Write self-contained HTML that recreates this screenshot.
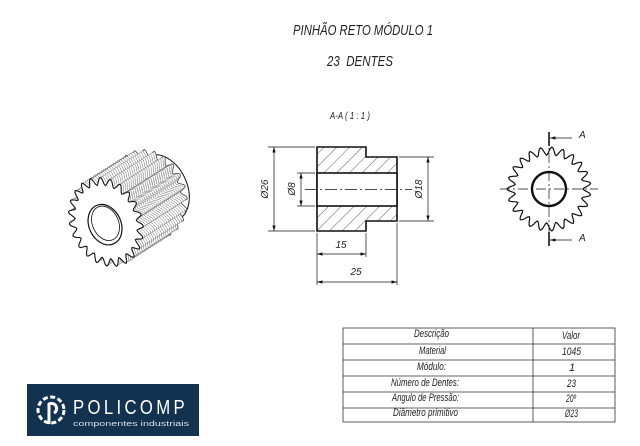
<!DOCTYPE html>
<html><head><meta charset="utf-8"><style>
body{margin:0;background:#fff}
svg{display:block}
.t{font-family:"Liberation Sans",sans-serif;font-style:italic;fill:#222}
</style></head><body>
<svg id="s" width="640" height="446" viewBox="0 0 640 446" xmlns="http://www.w3.org/2000/svg">
<defs>
<pattern id="h" width="9" height="9" patternUnits="userSpaceOnUse" patternTransform="rotate(45)">
<line x1="0" y1="0" x2="0" y2="9" stroke="#333" stroke-width="0.8"/></pattern>
<marker id="a" viewBox="0 0 10 6" refX="10" refY="3" markerWidth="8" markerHeight="5" orient="auto-start-reverse"><path d="M0,0L10,3L0,6z" fill="#111"/></marker>
</defs>
<text class="t" x="293" y="35" font-size="15" textLength="140" lengthAdjust="spacingAndGlyphs">PINHÃO RETO MÓDULO 1</text>
<text class="t" x="327" y="66" font-size="15" textLength="66" lengthAdjust="spacingAndGlyphs" xml:space="preserve">23  DENTES</text>
<text class="t" x="330" y="119" font-size="10" textLength="40" lengthAdjust="spacingAndGlyphs">A-A ( 1 : 1 )</text>

<g stroke="#111" fill="none">
<path d="M317,147H366V157H397V221H366V231H317Z" fill="url(#h)" stroke-width="1.6"/>
<rect x="317" y="173" width="80" height="33" fill="#fff" stroke-width="1.6"/>
<line x1="305" y1="189.5" x2="412" y2="189.5" stroke-width="0.7" stroke-dasharray="12,3,2,3"/>
<g stroke-width="0.7">
<line x1="268" y1="147" x2="315" y2="147"/><line x1="268" y1="231" x2="315" y2="231"/>
<line x1="274" y1="147" x2="274" y2="231" marker-start="url(#a)" marker-end="url(#a)"/>
<line x1="297" y1="173" x2="315" y2="173"/><line x1="297" y1="206" x2="315" y2="206"/>
<line x1="301" y1="173" x2="301" y2="206" marker-start="url(#a)" marker-end="url(#a)"/>
<line x1="399" y1="157" x2="434" y2="157"/><line x1="399" y1="221" x2="434" y2="221"/>
<line x1="428" y1="157" x2="428" y2="221" marker-start="url(#a)" marker-end="url(#a)"/>
<line x1="317" y1="233" x2="317" y2="285"/><line x1="366" y1="233" x2="366" y2="257"/><line x1="397" y1="223" x2="397" y2="285"/>
<line x1="317" y1="254" x2="366" y2="254" marker-start="url(#a)" marker-end="url(#a)"/>
<line x1="317" y1="282" x2="397" y2="282" marker-start="url(#a)" marker-end="url(#a)"/>
</g></g>
<text class="t" font-size="10" transform="translate(268,189) rotate(-90)" text-anchor="middle">Ø26</text>
<text class="t" font-size="10" transform="translate(295,189) rotate(-90)" text-anchor="middle">Ø8</text>
<text class="t" font-size="10" transform="translate(422,189) rotate(-90)" text-anchor="middle">Ø18</text>
<text class="t" font-size="10" x="341" y="248" text-anchor="middle">15</text>
<text class="t" font-size="10" x="356" y="275" text-anchor="middle">25</text>

<g id="fg"></g>
<g stroke="#111" stroke-width="0.7" fill="none">
<line x1="500" y1="189" x2="598" y2="189" stroke-dasharray="10,3,2,3"/>
<line x1="549" y1="135" x2="549" y2="243" stroke-dasharray="10,3,2,3"/>
<line x1="549" y1="132" x2="549" y2="146" stroke-width="1.6"/>
<line x1="549" y1="232" x2="549" y2="246" stroke-width="1.6"/>
<line x1="572" y1="138" x2="550" y2="138" marker-end="url(#a)"/>
<line x1="572" y1="240" x2="550" y2="240" marker-end="url(#a)"/>
</g>
<text class="t" font-size="10" x="579" y="138">A</text>
<text class="t" font-size="10" x="579" y="241">A</text>

<g id="g3"></g>

<g stroke="#333" stroke-width="0.8" fill="none">
<rect x="343" y="328" width="272" height="94"/>
<line x1="533" y1="328" x2="533" y2="422"/>
<line x1="343" y1="344" x2="615" y2="344"/><line x1="343" y1="360" x2="615" y2="360"/>
<line x1="343" y1="376" x2="615" y2="376"/><line x1="343" y1="392" x2="615" y2="392"/>
<line x1="343" y1="408" x2="615" y2="408"/>
</g>
<g class="t" font-size="11">
<text x="414" y="337" textLength="35" lengthAdjust="spacingAndGlyphs">Descrição</text><text x="562" y="339" textLength="18" lengthAdjust="spacingAndGlyphs">Valor</text>
<text x="419" y="354" textLength="27" lengthAdjust="spacingAndGlyphs">Material</text><text x="562" y="355" textLength="19" lengthAdjust="spacingAndGlyphs">1045</text>
<text x="417" y="370" textLength="29" lengthAdjust="spacingAndGlyphs">Módulo:</text><text x="569" y="371">1</text>
<text x="391" y="386" textLength="68" lengthAdjust="spacingAndGlyphs">Número de Dentes:</text><text x="567" y="387" textLength="9" lengthAdjust="spacingAndGlyphs">23</text>
<text x="392" y="401" textLength="67" lengthAdjust="spacingAndGlyphs">Angulo de Pressão:</text><text x="566" y="402" textLength="10" lengthAdjust="spacingAndGlyphs">20º</text>
<text x="393" y="416" textLength="65" lengthAdjust="spacingAndGlyphs">Diâmetro primitivo</text><text x="565" y="417" textLength="13" lengthAdjust="spacingAndGlyphs">Ø23</text>
</g>

<rect x="27" y="384" width="172" height="52" fill="#12324f"/>
<g fill="none" stroke="#fff" stroke-width="3">
<circle cx="51" cy="410" r="13" stroke-dasharray="5,2.5"/>
<path d="M49,424 L49,404 A5,5 0 1 1 54,413"/>
</g>
<text x="73" y="414" font-family="Liberation Sans,sans-serif" font-size="20" fill="#fff" textLength="115" lengthAdjust="spacingAndGlyphs" letter-spacing="4">POLICOMP</text>
<text x="73" y="426" font-family="Liberation Sans,sans-serif" font-size="7" fill="#d8e0e8" textLength="116" lengthAdjust="spacingAndGlyphs">componentes industriais</text>
</svg>
<script>
var NS="http://www.w3.org/2000/svg";
function gear(cx,cy,ro,ri,n,sx,sy,rot){
 var d="",m=n*8;
 for(var i=0;i<=m;i++){var a=i/m*2*Math.PI;var t=(i%8)/8;
  var r=ri+(ro-ri)*(0.5-0.5*Math.cos(t*2*Math.PI));
  var x=r*Math.cos(a)*sx,y=r*Math.sin(a)*sy;
  var X=cx+x*Math.cos(rot)-y*Math.sin(rot),Y=cy+x*Math.sin(rot)+y*Math.cos(rot);
  d+=(i?"L":"M")+X.toFixed(1)+","+Y.toFixed(1);}
 return d+"Z";}
function el(t,a,p){var e=document.createElementNS(NS,t);for(var k in a)e.setAttribute(k,a[k]);p.appendChild(e);return e;}
var fg=document.getElementById("fg");
el("path",{d:gear(549,189,42,34,23,1,1,0),fill:"#fff",stroke:"#111","stroke-width":1.2},fg);
el("circle",{cx:549,cy:189,r:17,fill:"none",stroke:"#111","stroke-width":2.4},fg);
var g=document.getElementById("g3");
el("ellipse",{cx:163,cy:188,rx:24,ry:35,transform:"rotate(-25 163 188)",fill:"#fff",stroke:"#111","stroke-width":1},g);
var cx=106,cy=222,dx=44,dy=-28,rot=-0.4;
var N=22;
for(var k=N;k>=0;k--){var f=k/N;
 el("path",{d:gear(cx+dx*f,cy+dy*f,46,38,23,0.78,1,rot),fill:"#fff",stroke:k==0?"#111":"#555","stroke-width":k==0?1.1:(k==N?0.9:0.45)},g);}
el("ellipse",{cx:cx-2,cy:cy+2,rx:16,ry:21,transform:"rotate(-25 "+cx+" "+cy+")",fill:"#fff",stroke:"#111","stroke-width":1.2},g);
el("ellipse",{cx:cx-1,cy:cy+1,rx:13,ry:18,transform:"rotate(-25 "+cx+" "+cy+")",fill:"none",stroke:"#111","stroke-width":0.8},g);
</script>
</body></html>
